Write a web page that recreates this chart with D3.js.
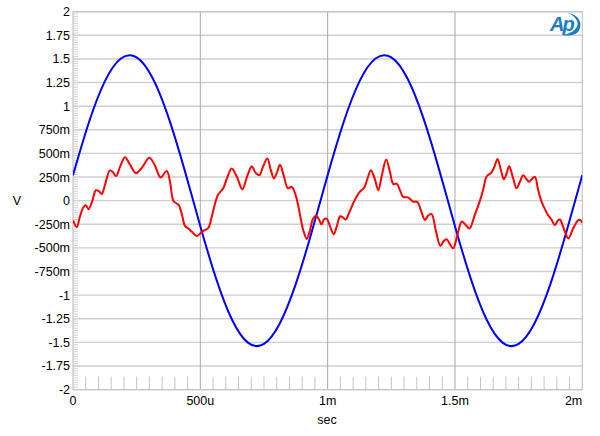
<!DOCTYPE html>
<html>
<head>
	<title>Scope trace</title>
	<script src="https://cdnjs.cloudflare.com/ajax/libs/d3/7.8.5/d3.min.js" charset="utf-8"></script>
	<style>
		body { margin: 0; background: white; }
		text {
			font-family: Arial, "Liberation Sans", sans-serif;
			font-size: 12.5px;
			fill: black;
		}
	</style>
</head>
<body>

	<svg id="main" width="600" height="436"></svg>

	<script>

		// time in microseconds, level in volts
		var blueTimes = [0, 62, 125, 188, 250, 312, 375, 438, 500, 562, 625, 688, 750, 812, 875, 938,
			1000, 1062, 1125, 1188, 1250, 1312, 1375, 1438, 1500, 1562, 1625, 1688, 1750, 1812, 1875, 1938, 2000];
		var blueVolts = [0.27, 0.825, 1.263, 1.505, 1.516, 1.30, 0.881, 0.326, -0.27, -0.825, -1.263, -1.505, -1.516, -1.30, -0.881, -0.326,
			0.27, 0.825, 1.263, 1.505, 1.516, 1.30, 0.881, 0.326, -0.27, -0.825, -1.263, -1.505, -1.516, -1.30, -0.881, -0.326, 0.27];

		var redTimes = [0, 15, 27, 41, 51, 61, 75, 90, 102, 113, 126, 145, 157, 169, 185, 204, 224, 247, 271, 300,
			322, 344, 368, 381, 394, 407, 416, 428, 440, 453, 467, 486, 499, 512, 531, 542, 557, 569, 590, 605,
			623, 644, 665, 683, 702, 716, 732, 746, 763, 777, 789, 801, 813, 828, 844, 859, 873, 885, 895, 904,
			918, 930, 943, 955, 966, 976, 985, 996, 1009, 1024, 1036, 1049, 1061, 1071, 1084, 1100, 1115, 1127, 1144, 1156,
			1170, 1184, 1199, 1213, 1230, 1245, 1258, 1271, 1284, 1296, 1316, 1327, 1336, 1352, 1366, 1382, 1394, 1408, 1425, 1443,
			1455, 1467, 1480, 1493, 1508, 1527, 1543, 1557, 1578, 1598, 1612, 1624, 1644, 1655, 1667, 1680, 1692, 1704, 1713, 1727,
			1742, 1755, 1768, 1780, 1791, 1802, 1814, 1826, 1840, 1853, 1866, 1879, 1892, 1904, 1912, 1928, 1945, 1963, 1984, 1992, 2000];
		var redVolts = [-0.21, -0.28, -0.17, -0.07, -0.05, -0.09, -0.01, 0.11, 0.10, 0.07, 0.17, 0.32, 0.30, 0.26, 0.36, 0.46, 0.38, 0.29, 0.35, 0.455,
			0.37, 0.245, 0.315, 0.2, 0.0, -0.03, -0.05, -0.15, -0.27, -0.295, -0.33, -0.375, -0.35, -0.32, -0.29, -0.2, -0.04, 0.06, 0.13, 0.24,
			0.34, 0.25, 0.12, 0.25, 0.365, 0.3, 0.27, 0.36, 0.445, 0.32, 0.235, 0.3, 0.38, 0.26, 0.13, 0.146, 0.07, -0.06, -0.2, -0.31,
			-0.405, -0.32, -0.19, -0.16, -0.2, -0.25, -0.2, -0.19, -0.27, -0.355, -0.27, -0.165, -0.18, -0.2, -0.13, -0.03, 0.05, 0.095, 0.14, 0.23,
			0.322, 0.24, 0.111, 0.27, 0.435, 0.3, 0.175, 0.18, 0.11, 0.04, 0.034, 0.01, -0.01, -0.013, -0.1, -0.205, -0.16, -0.143, -0.32, -0.48,
			-0.43, -0.408, -0.46, -0.505, -0.38, -0.22, -0.26, -0.294, -0.15, 0.0, 0.13, 0.255, 0.30, 0.36, 0.44, 0.33, 0.225, 0.3, 0.365, 0.25,
			0.13, 0.2, 0.27, 0.23, 0.2, 0.23, 0.252, 0.12, -0.01, -0.09, -0.155, -0.2, -0.26, -0.21, -0.2, -0.3, -0.4, -0.3, -0.206, -0.205, -0.235];

		var yTickValues = [2, 1.75, 1.5, 1.25, 1, 0.75, 0.5, 0.25, 0, -0.25, -0.5, -0.75, -1, -1.25, -1.5, -1.75, -2];
		var yTickLabels = ['2', '1.75', '1.5', '1.25', '1', '750m', '500m', '250m', '0', '-250m', '-500m', '-750m', '-1', '-1.25', '-1.5', '-1.75', '-2'];
		var xTickValues = [0, 500, 1000, 1500, 2000];
		var xTickLabels = ['0', '500u', '1m', '1.5m', '2m'];

		var LEFT = 73, RIGHT = 582.3, TOP = 11.7, BOTTOM = 389.6;

		var svg = d3.select('#main');

		var x = d3.scaleLinear().domain([0, 2000]).range([LEFT, RIGHT]);
		var y = d3.scaleLinear().domain([-2, 2]).range([BOTTOM, TOP]);

		svg.append('clipPath').attr('id', 'plot')
			.append('rect').attr('x', LEFT).attr('y', TOP)
			.attr('width', RIGHT - LEFT).attr('height', BOTTOM - TOP);

		// horizontal grid
		svg.append('g').selectAll('line').data(yTickValues).enter().append('line')
			.attr('x1', LEFT).attr('x2', RIGHT)
			.attr('y1', function(d) { return y(d); })
			.attr('y2', function(d) { return y(d); })
			.attr('stroke', '#cfcfcf').attr('stroke-width', 1.4);

		// minor ticks on the left edge
		var minorY = d3.range(-80, 81).map(function(i) { return i / 40; });
		svg.append('g').selectAll('line').data(minorY).enter().append('line')
			.attr('x1', LEFT).attr('x2', LEFT + 5)
			.attr('y1', function(d) { return y(d); })
			.attr('y2', function(d) { return y(d); })
			.attr('stroke', '#d4d4d4').attr('stroke-width', 1);

		// minor ticks along the bottom
		var minorX = d3.range(1, 40).map(function(i) { return i * 50; })
			.filter(function(d) { return d % 500 != 0; });
		svg.append('g').selectAll('line').data(minorX).enter().append('line')
			.attr('x1', function(d) { return x(d); })
			.attr('x2', function(d) { return x(d); })
			.attr('y1', BOTTOM).attr('y2', BOTTOM - 13)
			.attr('stroke', '#c4c4c4').attr('stroke-width', 1);

		// vertical grid
		svg.append('g').selectAll('line').data(xTickValues.slice(1, 4)).enter().append('line')
			.attr('x1', function(d) { return x(d); })
			.attr('x2', function(d) { return x(d); })
			.attr('y1', TOP).attr('y2', BOTTOM)
			.attr('stroke', '#a8a8a8').attr('stroke-width', 1);

		svg.append('rect')
			.attr('x', LEFT).attr('y', TOP)
			.attr('width', RIGHT - LEFT).attr('height', BOTTOM - TOP)
			.attr('fill', 'none').attr('stroke', '#c4c4c4').attr('stroke-width', 1.2);

		// tick labels
		svg.append('g').selectAll('text').data(yTickValues).enter().append('text')
			.attr('x', LEFT - 3)
			.attr('y', function(d) { return y(d) + 4.5; })
			.attr('text-anchor', 'end')
			.text(function(d, i) { return yTickLabels[i]; });

		svg.append('g').selectAll('text').data(xTickValues).enter().append('text')
			.attr('x', function(d) { return x(d); })
			.attr('y', 405)
			.attr('text-anchor', function(d, i) { return i == xTickValues.length - 1 ? 'end' : 'middle'; })
			.text(function(d, i) { return xTickLabels[i]; });

		svg.append('text').attr('x', 327).attr('y', 424).attr('text-anchor', 'middle').text('sec');
		svg.append('text').attr('x', 17).attr('y', 205).attr('text-anchor', 'middle').text('V');

		// traces
		function tracePath(times, volts, curve) {
			var line = d3.line()
				.x(function(d, i) { return x(times[i]); })
				.y(function(d) { return y(d); })
				.curve(curve);
			return line(volts);
		}

		var traces = svg.append('g').attr('clip-path', 'url(#plot)');

		traces.append('path')
			.attr('d', tracePath(blueTimes, blueVolts, d3.curveNatural))
			.attr('fill', 'none').attr('stroke', '#0000ff').attr('stroke-width', 2);

		traces.append('path')
			.attr('d', tracePath(redTimes, redVolts, d3.curveCatmullRom.alpha(0.5)))
			.attr('fill', 'none').attr('stroke', '#ff0000').attr('stroke-width', 2);

		// Ap logo
		var logo = svg.append('g').attr('transform', 'translate(549,13)');
		logo.append('text')
			.attr('x', 1).attr('y', 18)
			.style('font-size', '20px').style('font-style', 'italic').style('font-weight', 'bold')
			.style('fill', '#1c7cc3').style('letter-spacing', '-2px')
			.text('Ap');
		logo.append('path')
			.attr('d', 'M18,0 C30,1 35,11 29,19 C25,23 18,23 13,22 C22,21 31,15 28,8 C26,4 23,1 18,0 Z')
			.attr('fill', '#1c7cc3');

	</script>
</body>
</html>
